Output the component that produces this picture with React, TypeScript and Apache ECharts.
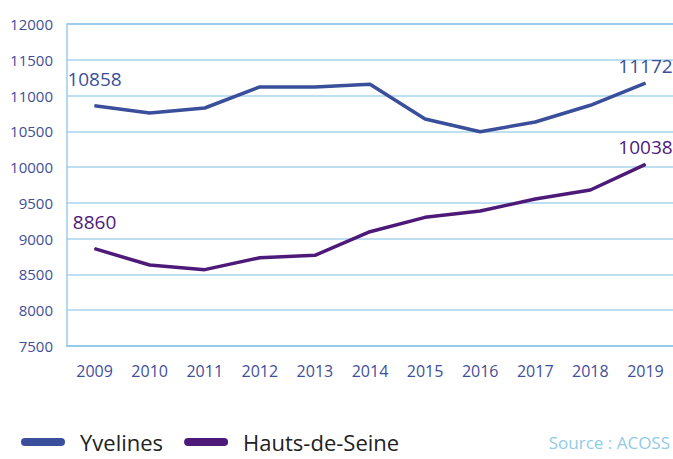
import React, { useEffect, useRef } from "react";
import * as echarts from "echarts";

const years = ["2009", "2010", "2011", "2012", "2013", "2014", "2015", "2016", "2017", "2018", "2019"];
const yvelines = [10858, 10756, 10826, 11120, 11120, 11157, 10672, 10495, 10630, 10864, 11172];
const hautsDeSeine = [8860, 8632, 8567, 8734, 8767, 9097, 9298, 9387, 9554, 9680, 10038];
const seriesNames = ["Yvelines", "Hauts-de-Seine"];
const sourceText = "Source : ACOSS";

const FONT = "'Open Sans', 'Noto Sans', sans-serif";
const BLUE = "#3a4f9b";
const PURPLE = "#4e1a7a";
const AXIS_TEXT = "#3f4f99";

function labeled(values: number[], color: string, firstOffset: number, lastOffset: number) {
  return values.map((v, i) => {
    if (i === 0 || i === values.length - 1) {
      return {
        value: v,
        label: {
          show: true,
          position: "top",
          offset: [0, i === 0 ? firstOffset : lastOffset],
          color,
          fontSize: 19,
          fontFamily: FONT,
        },
      };
    }
    return v;
  });
}

export default function App() {
  const ref = useRef<HTMLDivElement>(null);
  useEffect(() => {
    if (!ref.current) return;
    const chart = echarts.init(ref.current, undefined, { renderer: "svg" });
    const pill = "path://M4 0H40A4 4 0 0 1 40 8H4A4 4 0 0 1 4 0Z";
    chart.setOption({
      animation: false,
      grid: { left: 67, right: -2, top: 24, bottom: 113 },
      legend: {
        left: 16,
        bottom: 1,
        itemWidth: 44,
        itemHeight: 8,
        itemGap: 21,
        textStyle: { fontSize: 22, color: "#222", fontFamily: FONT, padding: [0, 0, 0, 10] },
        data: seriesNames.map((n) => ({ name: n, icon: pill })),
      },
      graphic: [
        {
          type: "text",
          right: 3,
          bottom: 8,
          style: { text: sourceText, fill: "#90cbe8", fontSize: 17, fontFamily: FONT },
        },
      ],
      xAxis: {
        type: "category",
        data: years,
        boundaryGap: true,
        axisLine: { show: true, lineStyle: { color: "#86c3e6", width: 1.5 } },
        axisTick: { show: false },
        axisLabel: { color: AXIS_TEXT, fontSize: 16, fontFamily: FONT, margin: 17 },
      },
      yAxis: {
        type: "value",
        min: 7500,
        max: 12000,
        interval: 500,
        axisLine: { show: true, lineStyle: { color: "#9ccbe9", width: 1.5 } },
        axisTick: { show: false },
        axisLabel: {
          color: AXIS_TEXT,
          fontSize: 15,
          fontFamily: FONT,
          margin: 14,
          formatter: (v: number) => String(v),
        },
        splitLine: {
          lineStyle: {
            color: ["#a9d4ee", "#a9d4ee", "#a9d4ee", "#a9d4ee", "#a9d4ee", "#a9d4ee", "#a9d4ee", "#a9d4ee", "#a9d4ee", "#7cbde3"],
            width: 1.5,
          },
        },
      },
      series: [
        {
          name: seriesNames[0],
          type: "line",
          data: labeled(yvelines, BLUE, -12, -2),
          showSymbol: true,
          symbol: "circle",
          symbolSize: 1,
          lineStyle: { color: BLUE, width: 3.5 },
          itemStyle: { color: BLUE },
        },
        {
          name: seriesNames[1],
          type: "line",
          data: labeled(hautsDeSeine, PURPLE, -12, -2),
          showSymbol: true,
          symbol: "circle",
          symbolSize: 1,
          lineStyle: { color: PURPLE, width: 3.5 },
          itemStyle: { color: PURPLE },
        },
      ],
    });
    return () => chart.dispose();
  }, []);
  return <div ref={ref} style={{ width: 673, height: 459, position: "absolute", left: 0, top: 0 }} />;
}
